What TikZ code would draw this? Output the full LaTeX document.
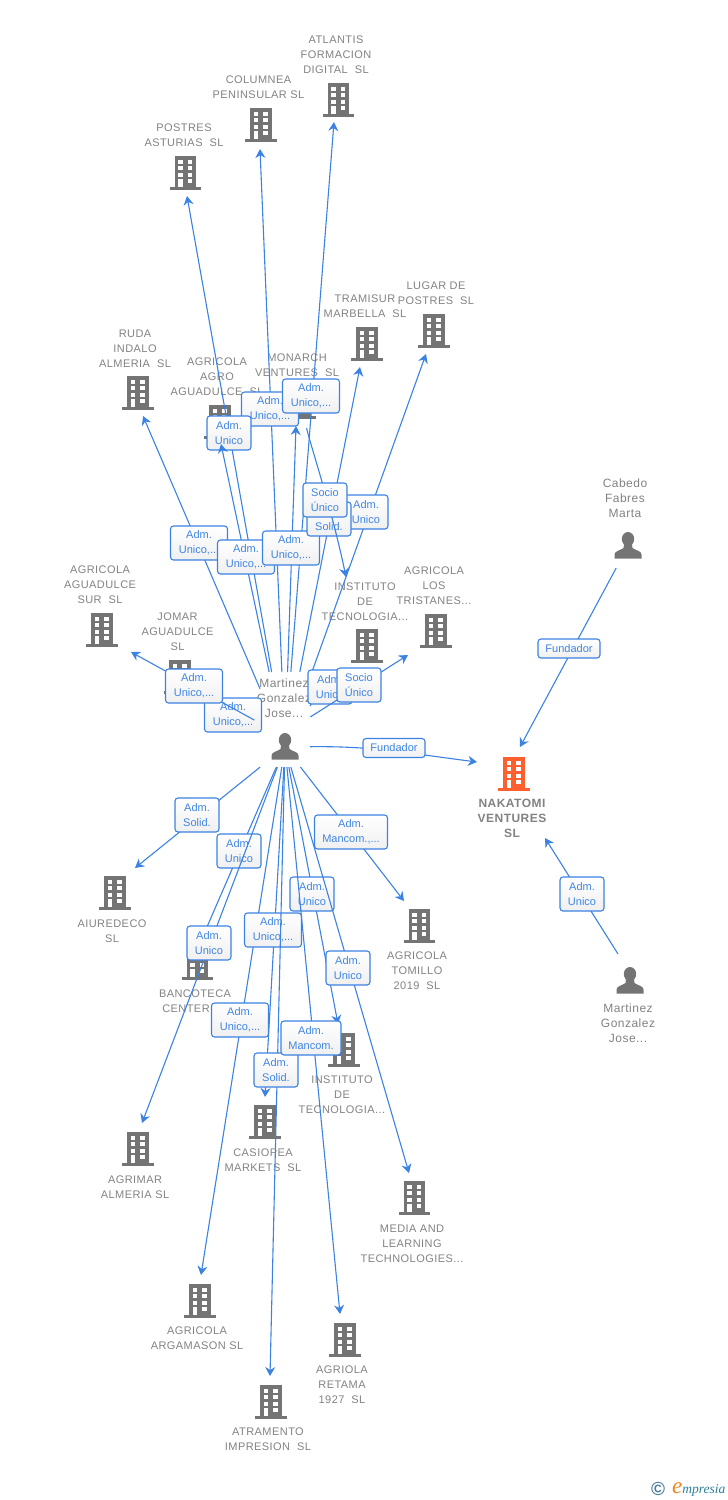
\documentclass[tikz,border=0pt]{standalone}
\usepackage{fontspec}
\usetikzlibrary{arrows.meta,calc}
\setmainfont{Liberation Sans}
\newfontfamily\grayfont[LetterSpace=4]{Liberation Sans}
\newfontfamily\logofont{Liberation Serif}
\definecolor{edgeblue}{HTML}{3B82E2}
\definecolor{txtblue}{HTML}{3F86E4}
\definecolor{txtgray}{HTML}{828282}
\definecolor{icongray}{HTML}{747474}
\definecolor{iconorange}{HTML}{FF5F2E}
\definecolor{logoblue}{HTML}{4A7F9A}
\definecolor{logoteal}{HTML}{2A7F9A}
\definecolor{logoorange}{HTML}{F0841E}
\tikzset{
  edge/.style={draw=edgeblue,line width=1.1pt,-{Stealth[length=9pt,width=10pt,inset=3pt]}},
  lbl/.style={draw=edgeblue,line width=1.1pt,rounded corners=3pt,top color=white,bottom color=black!6,
    minimum width=#1,minimum height=34pt,inner sep=0pt,align=center,text=txtblue,
    font=\fontsize{11}{15}\selectfont},
  lblshort/.style={lbl=#1,minimum height=19pt},
  gtext/.style={inner sep=0pt,align=center,text=txtgray,font=\grayfont\fontsize{11}{15}\selectfont},
  ptext/.style={inner sep=0pt,align=center,text=txtgray,font=\grayfont\fontsize{12}{15}\selectfont},
  bldg/.style={minimum width=32pt,minimum height=34pt,inner sep=0pt,
    path picture={\begin{scope}[shift={(path picture bounding box.center)}]
      \fill[#1] (-10.8,-17) rectangle (10.8,14.2);
      \fill[#1] (-15.7,14) rectangle (15.7,17);
      \foreach \yy in {-13.5,-7,-0.3}{
        \fill[white] (-7.5,\yy) rectangle (-2.8,\yy+4);
        \fill[white] (2.2,\yy) rectangle (6.9,\yy+4);}
      \fill[white] (-7.5,6) rectangle (-2.8,14);
      \fill[white] (2.2,6) rectangle (6.9,10);
    \end{scope}}},
  persona/.style={minimum width=28pt,minimum height=28pt,inner sep=0pt,
    path picture={\begin{scope}[shift={(path picture bounding box.center)}]
      \fill[icongray] (0,-7) ellipse (6.2 and 7);
      \fill[icongray] (-13.5,12.5) -- (-13.5,8.5) .. controls (-13.5,5) and (-8,4.5) .. (-4.5,2)
        -- (-4,-2) -- (4,-2) -- (4.5,2) .. controls (8,4.5) and (13.5,5) .. (13.5,8.5) -- (13.5,12.5) -- cycle;
    \end{scope}}}
}
% main person at (285,747); start of each line cut by the box x 260..310, y 672..767
\newcommand{\medge}[8]{%
  \coordinate (#1) at (#2,#3);
  \pgfmathsetmacro\ddx{#2-285}\pgfmathsetmacro\ddy{#3-747}
  \pgfmathsetmacro\tcut{min((\ddy<0 ? 75/abs(\ddy) : 20/abs(\ddy)),25/(abs(\ddx)+0.001))}
  \pgfmathsetmacro\lencut{\tcut*veclen(\ddx,\ddy)}
  \draw[edge,shorten <=\lencut pt] (person.center) -- (#1);
  \node[lbl=#7] (#4) at (#5,#6) {#8};
}
\begin{document}
\begin{tikzpicture}[x=1pt,y=-1pt]
\useasboundingbox (0,0) rectangle (728,1500);
% buildings
\node[bldg=icongray] (atlantis) at (338.5,100) {};
\node[bldg=icongray] (columnea) at (261,125) {};
\node[bldg=icongray] (postres) at (185.5,173) {};
\node[bldg=icongray] (ruda) at (138,393) {};
\node[bldg=icongray] (agro) at (220,422) {};
\node[bldg=icongray] (monarch) at (300,402) {};
\node[bldg=icongray] (tramisur) at (367,344) {};
\node[bldg=icongray] (lugar) at (434,331) {};
\node[bldg=icongray] (instup) at (367,646) {};
\node[bldg=icongray] (tristanes) at (436,631) {};
\node[bldg=icongray] (aguasur) at (102,630) {};
\node[bldg=icongray] (jomar) at (180,677) {};
\node[bldg=iconorange] (nakatomi) at (514,774) {};
\node[bldg=icongray] (aiuredeco) at (115,893) {};
\node[bldg=icongray] (bancoteca) at (197.5,963) {};
\node[bldg=icongray] (tomillo) at (419.5,926) {};
\node[bldg=icongray] (instlow) at (344,1050) {};
\node[bldg=icongray] (casiopea) at (265,1122) {};
\node[bldg=icongray] (agrimar) at (138,1149) {};
\node[bldg=icongray] (media) at (414.5,1198) {};
\node[bldg=icongray] (argamason) at (200,1301) {};
\node[bldg=icongray] (agriola) at (345,1340) {};
\node[bldg=icongray] (atramento) at (271,1402) {};
% persons
\node[persona] (person) at (285,747) {};
\node[persona] (cabedo) at (628,546) {};
\node[persona] (martinez) at (630,981) {};
% grey texts
\node[gtext] (t1) at (336,54.5) {ATLANTIS\\FORMACION\\DIGITAL\ \ SL};
\node[gtext] (t2) at (258.5,87) {COLUMNEA\\PENINSULAR SL};
\node[gtext] (t3) at (184,135) {POSTRES\\ASTURIAS\ \ SL};
\node[gtext] (t4) at (135,348.5) {RUDA\\INDALO\\ALMERIA\ \ SL};
\node[gtext] (t5) at (217,376.5) {AGRICOLA\\AGRO\\AGUADULCE\ \ SL};
\node[gtext] (t6) at (297,365) {MONARCH\\VENTURES\ \ SL};
\node[gtext] (t7) at (365,306) {TRAMISUR\\MARBELLA\ \ SL};
\node[gtext] (t8) at (436,293) {LUGAR DE\\POSTRES\ \ SL};
\node[ptext] (t9) at (625,498) {Cabedo\\Fabres\\Marta};
\node[gtext] (t10) at (434,585.5) {AGRICOLA\\LOS\\TRISTANES...};
\node[gtext] (t11) at (365,601.5) {INSTITUTO\\DE\\TECNOLOGIA...};
\node[gtext] (t12) at (100,584.5) {AGRICOLA\\AGUADULCE\\SUR\ \ SL};
\node[gtext] (t13) at (177.5,631.5) {JOMAR\\AGUADULCE\\SL};
\node[ptext] (t14) at (284,698) {Martinez\\Gonzalez\\Jose...};
\node[gtext,font=\grayfont\bfseries\fontsize{12}{15}\selectfont] (t15) at (512,818) {NAKATOMI\\VENTURES\\SL};
\node[gtext] (t16) at (112,931) {AIUREDECO\\SL};
\node[gtext] (t17) at (195,1001) {BANCOTECA\\CENTER\hspace*{18pt}};
\node[gtext] (t18) at (417,970.5) {AGRICOLA\\TOMILLO\\2019\ \ SL};
\node[ptext] (t19) at (628,1023) {Martinez\\Gonzalez\\Jose...};
\node[gtext] (t20) at (342,1094.5) {INSTITUTO\\DE\\TECNOLOGIA...};
\node[gtext] (t21) at (263,1160) {CASIOPEA\\MARKETS\ \ SL};
\node[gtext] (t22) at (135,1187) {AGRIMAR\\ALMERIA SL};
\node[gtext] (t23) at (412,1243.5) {MEDIA AND\\LEARNING\\TECHNOLOGIES...};
\node[gtext] (t24) at (197,1338) {AGRICOLA\\ARGAMASON SL};
\node[gtext] (t25) at (342,1384.5) {AGRIOLA\\RETAMA\\1927\ \ SL};
\node[gtext] (t26) at (268,1439) {ATRAMENTO\\IMPRESION\ \ SL};
% upper connectors
\medge{tcol}{260}{149}{lcol}{270}{409}{57pt}{Adm.\\Unico,...}
\medge{tatl}{334}{122}{latl}{311}{396}{57pt}{Adm.\\Unico,...}
\medge{tpos}{187}{196}{lpos}{229}{433}{44pt}{Adm.\\Unico}
\medge{trud}{143}{416}{lrud}{199}{543}{57pt}{Adm.\\Unico,...}
\medge{tagr}{221}{444}{lagr}{246}{557}{57pt}{Adm.\\Unico,...}
\medge{tmon}{296}{426}{lmon}{291}{548}{57pt}{Adm.\\Unico,...}
\medge{tlug}{426}{354}{llug}{366}{512}{44pt}{Adm.\\Unico}
\medge{ttra}{360}{367}{ltra}{329}{519}{44pt}{Adm.\\Solid.}
\coordinate (tinst) at (346,577);
\draw[edge,shorten <=27pt] (monarch.center) .. controls (312,450) and (332,510) .. (tinst);
\node[lbl=44pt] (lsoc) at (325,500) {Socio\\Único};
% around the person
\medge{tjom}{195}{690}{ljom}{233}{715}{57pt}{Adm.\\Unico,...}
\coordinate (tsur) at (131,652);
\draw[edge,shorten <=35pt] ($(person.center)+(0,-10)$) -- (tsur);
\node[lbl=57pt] (lsur) at (194,686) {Adm.\\Unico,...};
\medge{tiup}{332}{670}{liup}{330}{687}{44pt}{Adm.\\Unico}
\coordinate (ttri) at (408,655);
\draw[edge,shorten <=30pt] ($(person.center)+(0,-14)$) -- (ttri);
\node[lbl=44pt] (ltri) at (359,685) {Socio\\Único};
% lower connectors
\medge{taiu}{135}{868}{laiu}{197}{815}{44pt}{Adm.\\Solid.}
\medge{tban}{197}{950}{lban}{239}{851}{44pt}{Adm.\\Unico}
\medge{tagm}{142}{1123}{lagm}{209}{943}{44pt}{Adm.\\Unico}
\medge{targ}{201}{1275}{larg}{240}{1020}{57pt}{Adm.\\Unico,...}
\medge{tcas}{265}{1097}{lcas}{273}{930}{57pt}{Adm.\\Unico,...}
\medge{tatr}{270}{1376}{latr}{276}{1070}{44pt}{Adm.\\Solid.}
\medge{tilo}{338}{1024}{lilo}{312}{894}{44pt}{Adm.\\Unico}
\medge{tret}{340}{1314}{lret}{311}{1038}{60pt}{Adm.\\Mancom.}
\medge{tmed}{409}{1173}{lmed}{348}{968}{44pt}{Adm.\\Unico}
\medge{ttom}{404}{901}{ltom}{351}{832}{73pt}{Adm.\\Mancom.,...}
% Nakatomi
\coordinate (tnak1) at (477,762);
\draw[edge,shorten <=25pt] (person.center) .. controls (370,746) and (400,752) .. (tnak1);
\node[lblshort=62pt] (lnak1) at (394,748) {Fundador};
\coordinate (tnak2) at (520,747);
\draw[edge,shorten <=25pt] (cabedo.center) -- (tnak2);
\node[lblshort=62pt] (lnak2) at (569,648.5) {Fundador};
\coordinate (tnak3) at (545,838);
\draw[edge,shorten <=32pt] ($(martinez.center)+(5,0)$) -- (tnak3);
\node[lbl=44pt] (lnak3) at (582,894) {Adm.\\Unico};
% logo
\node[inner sep=0pt,text=logoblue,font=\bfseries\fontsize{19}{19}\selectfont] (copyr) at (658,1489) {©};
\node[inner sep=0pt,anchor=base west] (logo) at (672,1493) {\logofont\itshape{\color{logoorange}\fontsize{23}{23}\selectfont e}{\color{logoteal}\fontsize{13.5}{13.5}\selectfont mpresia}};
\end{tikzpicture}
\end{document}
